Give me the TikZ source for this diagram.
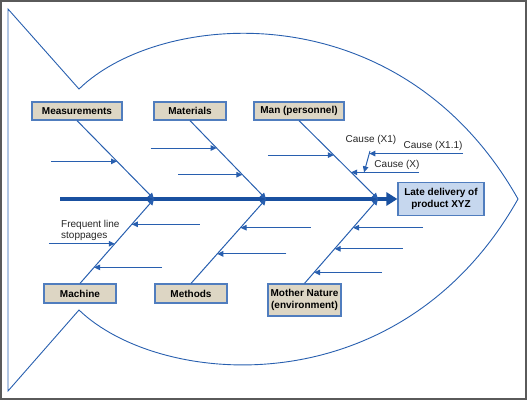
\documentclass[tikz,border=0pt]{standalone}
\usepackage{fontspec}
\setmainfont{Liberation Sans}
\usetikzlibrary{calc,arrows.meta}
\definecolor{boneblue}{RGB}{40,95,175}
\definecolor{spineblue}{RGB}{25,80,160}
\definecolor{boxtan}{RGB}{221,214,196}
\definecolor{effectblue}{RGB}{198,215,238}
\definecolor{boxedge}{RGB}{80,125,190}
\definecolor{framegray}{RGB}{90,90,90}

\begin{document}
\begin{tikzpicture}[x=1pt, y=-1pt,
  every node/.style={align=center, font=\fontsize{10}{11.5}\selectfont},
  cat/.style={rectangle, draw=boxedge, line width=1.2pt, fill=boxtan, font=\fontsize{10}{11.5}\selectfont\bfseries, minimum height=18pt, inner sep=1pt},
  effect/.style={rectangle, draw=boxedge, line width=1.2pt, fill=effectblue, font=\fontsize{10}{11.5}\selectfont\bfseries, minimum width=86pt, minimum height=33pt, inner sep=1pt},
  outline/.style={boneblue, line width=0.9pt},
  spine/.style={-{Triangle[length=11pt,width=13pt]}, spineblue, line width=4pt},
  bone/.style={-{Triangle[length=6pt,width=6pt]}, boneblue, line width=1pt},
  sub/.style={-{Triangle[length=6pt,width=5.5pt]}, boneblue, line width=1pt},
  lbl/.style={inner sep=1pt, text=black!85}
]
\useasboundingbox (0,0) rectangle (527,400);
\draw[framegray, line width=2pt] (1,1) rectangle (526,399);
% Fish outline
\draw[outline] (8,9) -- (79,89) .. controls (160,10) and (400,-10) .. (518,199)
  .. controls (400,408) and (160,388) .. (79,310) -- (8,391) -- cycle;
% Head: effect
\node[effect] (effect) at (441,199) {Late delivery of\\product XYZ};
% Top row: categories
\node[cat, minimum width=90pt] (meas) at (77,111) {Measurements};
\node[cat, minimum width=72pt] (mat) at (190,111) {Materials};
\node[cat, minimum width=90pt] (man) at (299,111) {Man (personnel)};
% Bottom row: categories
\node[cat, minimum width=72pt, minimum height=19pt] (mach) at (80,293.5) {Machine};
\node[cat, minimum width=72pt, minimum height=19pt] (meth) at (191,293.5) {Methods};
\node[cat, minimum width=73pt, minimum height=32pt] (nature) at (304.5,300) {Mother Nature\\(environment)};
% Spine
\coordinate (tailend) at (60,199);
\coordinate (sp1) at (154,199);
\coordinate (sp2) at (266,199);
\coordinate (sp3) at (378,199);
\draw[spine] (tailend) -- (effect.west);
% Bones
\draw[bone] (meas.south) -- (sp1);
\draw[bone] (mat.south) -- (sp2);
\draw[bone] (man.south) -- (sp3);
\draw[bone] (mach.north) -- (sp1);
\draw[bone] (meth.north) -- (sp2);
\draw[bone] (nature.north) -- (sp3);
% Sub-causes
\foreach \cname/\bone/\sp/\f/\len in {m1/meas.south/sp1/0.52/-66, t1/mat.south/sp2/0.35/-66, t2/mat.south/sp2/0.69/-64,
    p1/man.south/sp3/0.44/-66, cx/man.south/sp3/0.66/68,
    h1/mach.north/sp1/0.70/68, h2/mach.north/sp1/0.47/-66, h3/mach.north/sp1/0.19/68,
    d1/meth.north/sp2/0.66/70, d2/meth.north/sp2/0.35/69,
    n1/nature.north/sp3/0.66/70, n2/nature.north/sp3/0.41/68, n3/nature.north/sp3/0.13/68}{
  \coordinate (\cname) at ($(\bone)!\f!(\sp)$);
  \coordinate (\cname-tail) at ($(\cname)+(\len,0)$);
  \draw[sub] (\cname-tail) -- (\cname);
}
% Cause chain on Man
\coordinate (x1top) at (370,151);
\coordinate (x1end) at ($(cx)!0.19!(cx-tail)$);
\draw[sub] (x1top) -- (x1end);
\coordinate (x11end) at ($(x1top)!0.12!(x1end)$);
\coordinate (x11tail) at (463,0 |- x11end);
\draw[sub] (x11tail) -- (x11end);
% Labels
\node[lbl] (lblx) at (397,165) {Cause (X)};
\node[lbl] (lblx1) at (371,140) {Cause (X1)};
\node[lbl] (lblx11) at (433,146) {Cause (X1.1)};
\node[lbl, anchor=west, align=left] (lblstop) at (60,230.5) {Frequent line\\stoppages};
\end{tikzpicture}
\end{document}
